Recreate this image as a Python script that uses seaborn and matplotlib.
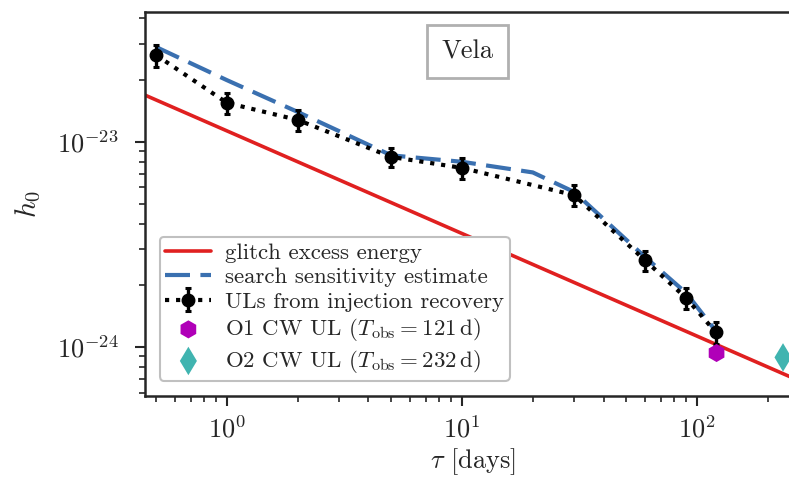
import numpy as np
import pandas as pd
import matplotlib
matplotlib.use('Agg')
import matplotlib.pyplot as plt
import seaborn as sns

# Data
tau_glitch = [0.40, 300.0]
h_glitch = [1.79e-23, 6.52e-25]

tau_sens = [0.5, 1, 2, 5, 10, 20, 30, 60, 90, 120]
h_sens = [2.90e-23, 2.00e-23, 1.40e-23, 8.60e-24, 8.00e-24, 7.10e-24, 5.70e-24, 2.75e-24, 1.83e-24, 1.20e-24]

tau_ul = [0.5, 1, 2, 5, 10, 30, 60, 90, 120]
h_ul = [2.65e-23, 1.55e-23, 1.28e-23, 8.45e-24, 7.47e-24, 5.50e-24, 2.65e-24, 1.73e-24, 1.18e-24]
h_ul_err = [3.2e-24, 1.8e-24, 1.5e-24, 9.0e-25, 8.5e-25, 6.5e-25, 3.0e-25, 2.0e-25, 1.4e-25]

tau_o1, h_o1 = [121], [9.35e-25]
tau_o2, h_o2 = [232], [8.90e-25]

x_ticks = [1, 10, 100]
y_ticks = [1e-24, 1e-23]

# Style
sns.set_style('ticks')
plt.rcParams['font.family'] = 'serif'
plt.rcParams['font.serif'] = ['cmr10']
plt.rcParams['mathtext.fontset'] = 'cm'
plt.rcParams['axes.formatter.use_mathtext'] = True
plt.rcParams['axes.unicode_minus'] = False

fig = plt.figure(figsize=(7.89, 4.83), dpi=100)
ax = fig.add_axes([145 / 789, 87 / 483, 655 / 789, 384 / 483])

glitch = pd.DataFrame({'tau': tau_glitch, 'h': h_glitch})
sens = pd.DataFrame({'tau': tau_sens, 'h': h_sens})

sns.lineplot(data=glitch, x='tau', y='h', ax=ax, color='#e02020', lw=2.6,
             label='glitch excess energy', zorder=2)
sns.lineplot(data=sens, x='tau', y='h', ax=ax, color='#3a70b0', lw=3,
             dashes=False, label='search sensitivity estimate', zorder=3)
ax.lines[-1].set_dashes([6, 2.5])
ax.errorbar(tau_ul, h_ul, yerr=h_ul_err, fmt='o', ls=':', color='black',
            lw=3, ms=9, elinewidth=2.4, capsize=2.5, capthick=2.2,
            label='ULs from injection recovery', zorder=4)
sns.scatterplot(x=tau_o1, y=h_o1, ax=ax, marker='h', s=170, color='#b000b8',
                edgecolor='none', label=r'O1 CW UL ($T_{\rm obs}=121\,{\rm d}$)', zorder=5)
sns.scatterplot(x=tau_o2, y=h_o2, ax=ax, marker='d', s=210, color='#40b4b0',
                edgecolor='none', label=r'O2 CW UL ($T_{\rm obs}=232\,{\rm d}$)', zorder=5)

ax.set_xscale('log')
ax.set_yscale('log')
ax.set_xticks(x_ticks)
ax.set_yticks(y_ticks)
ax.set_xlim(0.448, 274)
ax.set_ylim(5.77e-25, 4.3e-23)

ax.set_xlabel(r'$\tau$ [days]', fontsize=19, labelpad=3)
ax.set_ylabel(r'$h_0$', fontsize=21, labelpad=10)
ax.tick_params(axis='both', which='major', labelsize=19, length=7, width=1.5)
ax.tick_params(axis='x', which='major', pad=7)
ax.tick_params(axis='y', which='major', pad=12)
ax.tick_params(axis='both', which='minor', length=4, width=1.2)
ax.xaxis.set_minor_formatter(matplotlib.ticker.NullFormatter())
ax.yaxis.set_minor_formatter(matplotlib.ticker.NullFormatter())
for s in ax.spines.values():
    s.set_linewidth(1.8)

ax.text(0.493, 0.898, 'Vela', transform=ax.transAxes, ha='center', va='center',
        fontsize=19, bbox=dict(boxstyle='square,pad=0.55', fc='white', ec='#b0b0b0', lw=2))

handles, labels = ax.get_legend_handles_labels()
order = ['glitch excess energy', 'search sensitivity estimate', 'ULs from injection recovery',
         r'O1 CW UL ($T_{\rm obs}=121\,{\rm d}$)', r'O2 CW UL ($T_{\rm obs}=232\,{\rm d}$)']
hd = dict(zip(labels, handles))
leg = ax.legend([hd[l] for l in order], order, loc='lower left', fontsize=16.5,
                frameon=True, fancybox=True, edgecolor='#c0c0c0', framealpha=1,
                handlelength=2.0, handletextpad=0.6, borderpad=0.25, labelspacing=0.2,
                bbox_to_anchor=(0.005, 0.01))
leg.get_frame().set_linewidth(1.5)

fig.savefig('out.png', dpi=100)
